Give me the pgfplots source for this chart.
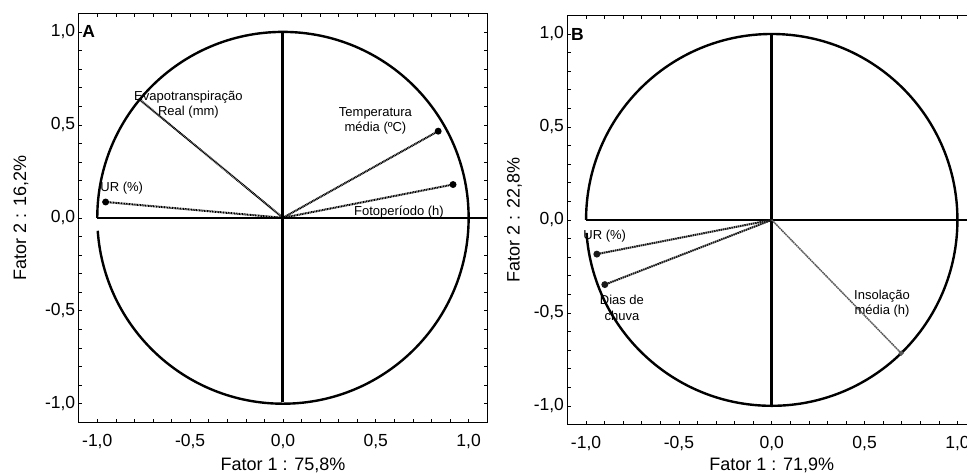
\documentclass[border=0pt]{standalone}
\usepackage{fontspec}
\setmainfont{Liberation Sans}
\usepackage{pgfplots}
\pgfplotsset{compat=1.18}
\tikzset{lbl/.style={font=\fontsize{13}{15.5}\selectfont, align=center, inner sep=0pt}}
\pgfplotsset{
  pca/.style={
    width=408.5pt, height=409pt, scale only axis,
    xmin=-1.1, xmax=1.1, ymin=-1.1, ymax=1.1,
    xtick={-1,-0.5,0,0.5,1}, ytick={-1,-0.5,0,0.5,1},
    minor tick num=4,
    tick align=inside,
    major tick length=3.5pt, minor tick length=3.5pt,
    axis line style={line width=0.9pt},
    tick style={line width=0.6pt, black},
    /pgf/number format/.cd, fixed, fixed zerofill, precision=1, use comma, assume math mode=true,
    /pgfplots/.cd,
    ticklabel style={font=\fontsize{17.5}{21}\selectfont},
    xticklabel style={yshift=-8.5pt},
    every axis x label/.style={at={(axis description cs:0.5,0)}, anchor=north, yshift=-32pt, font=\fontsize{18}{21}\selectfont},
  },
  vecA/.style={black, line width=2pt, dash pattern=on 1pt off 0.6pt, mark=*, mark size=2.4pt, mark options={solid}, mark indices={2}},
  vecB/.style={black!90, line width=2pt, dash pattern=on 1.6pt off 0.6pt, mark=*, mark size=2.4pt, mark options={solid}, mark indices={2}},
}
\begin{document}
\begin{tikzpicture}
\path[use as bounding box] (0,0) rectangle (967pt,475pt);
% Panel A
\begin{axis}[pca, at={(78.7pt,52.7pt)}, anchor=south west,
  xlabel={Fator 1 : 75,8\%},
  ylabel={Fator 2 : 16,2\%},
  every axis y label/.style={at={(axis description cs:-0.1412,0.5)}, rotate=90, anchor=center, font=\fontsize{18}{21}\selectfont}]
\draw[line width=2.4pt] (axis cs:-1,0) arc[start angle=180, end angle=-176, x radius=185.68pt, y radius=185.91pt];
\draw[line width=2.6pt] (axis cs:-1,0) -- (axis cs:1.1,0);
\draw[line width=3pt] (axis cs:0,-0.99) -- (axis cs:0,1);
\addplot[vecA] coordinates {(0,0) (-0.955,0.085)};
\addplot[vecA, mark=none] coordinates {(0,0) (-0.778,0.641)};
\addplot[vecA] coordinates {(0,0) (0.836,0.466)};
\addplot[vecA] coordinates {(0,0) (0.916,0.179)};
\node[lbl, anchor=west] at (axis cs:-0.984,0.158) {UR (\%)};
\node[lbl] at (axis cs:-0.509,0.608) {Evapotranspiração\\Real (mm)};
\node[lbl] at (axis cs:0.498,0.522) {Temperatura\\média (ºC)};
\node[lbl] at (axis cs:0.625,0.032) {Fotoperíodo (h)};
\node[anchor=west, inner sep=0pt, xshift=3.5pt, font=\bfseries\fontsize{17.5}{21}\selectfont] at (axis cs:-1.1,1.0) {A};
\end{axis}
% Panel B
\begin{axis}[pca, at={(567.5pt,50.6pt)}, anchor=south west,
  xlabel={Fator 1 : 71,9\%},
  x label style={yshift=2pt},
  ylabel={Fator 2 : 22,8\%},
  every axis y label/.style={at={(axis description cs:-0.130,0.5)}, rotate=90, anchor=center, font=\fontsize{18}{21}\selectfont}]
\draw[line width=2.4pt] (axis cs:-1,0) arc[start angle=180, end angle=-176, x radius=185.68pt, y radius=185.91pt];
\draw[line width=2.6pt] (axis cs:-1,0) -- (axis cs:1.1,0);
\draw[line width=3pt] (axis cs:0,-1) -- (axis cs:0,1);
\addplot[vecB] coordinates {(0,0) (-0.942,-0.184)};
\addplot[vecB] coordinates {(0,0) (-0.899,-0.348)};
\addplot[vecB, black!65, line width=1.5pt, mark size=1.8pt] coordinates {(0,0) (0.697,-0.717)};
\node[lbl, anchor=west] at (axis cs:-1.015,-0.090) {UR (\%)};
\node[lbl] at (axis cs:-0.807,-0.474) {Dias de\\chuva};
\node[lbl] at (axis cs:0.594,-0.450) {Insolação\\média (h)};
\node[anchor=west, inner sep=0pt, xshift=3.5pt, font=\bfseries\fontsize{17.5}{21}\selectfont] at (axis cs:-1.1,1.0) {B};
\end{axis}
\end{tikzpicture}
\end{document}
